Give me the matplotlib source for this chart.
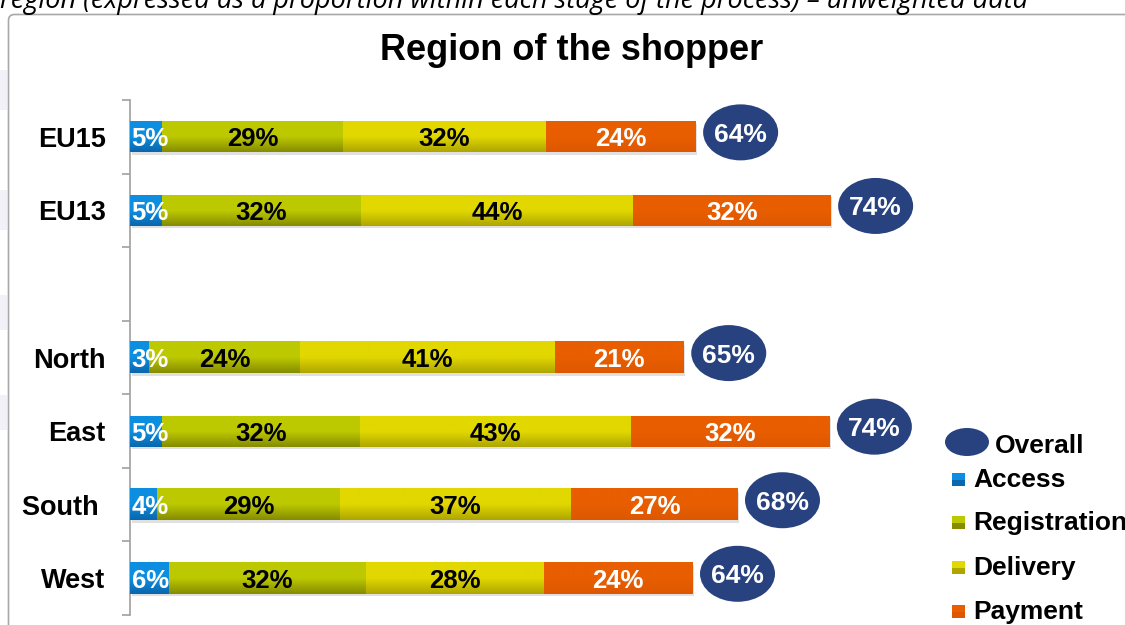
import numpy as np
import matplotlib
matplotlib.use("Agg")
import matplotlib.pyplot as plt
from matplotlib.patches import Ellipse, FancyBboxPatch, Rectangle
from matplotlib.colors import LinearSegmentedColormap

# ---------------- data ----------------
categories = ["EU15", "EU13", "", "North", "East", "South ", "West"]
access       = [5.1, 5.1, None, 3.0, 5.1, 4.3, 6.2]
registration = [29.0, 31.8, None, 24.2, 31.7, 29.3, 31.6]
delivery     = [32.4, 43.6, None, 40.8, 43.3, 37.0, 28.4]
payment      = [24.0, 31.6, None, 20.6, 31.8, 26.6, 23.8]
overall      = [64, 74, None, 65, 74, 68, 64]
series_names = ["Access", "Registration", "Delivery", "Payment"]
title = "Region of the shopper"
caption = "region (expressed as a proportion within each stage of the process) \u2013 unweighted data"

# ---------------- style ----------------
grad = {
    "Access": ("#0d8ee0", "#0a66ad"),
    "Registration": ("#bdc900", "#858c00"),
    "Delivery": ("#e2d800", "#aea600"),
    "Payment": ("#e85e00", "#de5700"),
}
label_color = {"Access": "white", "Registration": "black", "Delivery": "black", "Payment": "white"}
navy = "#28427f"
FONT = "Liberation Sans"

W, H = 1125, 625
fig = plt.figure(figsize=(W / 100, H / 100), dpi=100)
fig.patch.set_facecolor("white")

# overlay axes in pixel coordinates for frame/legend/caption
ov = fig.add_axes([0, 0, 1, 1], zorder=0)
ov.set_xlim(0, W)
ov.set_ylim(H, 0)
ov.axis("off")

# faint background shapes at left edge
for y0, h in [(70, 40), (190, 40), (295, 35), (395, 35)]:
    ov.add_patch(Rectangle((0, y0), 7, h, facecolor="#f1f1f7", edgecolor="none"))

# frame
ov.add_patch(FancyBboxPatch((8.5, 14.5), 1200, 700, boxstyle="round,pad=0,rounding_size=6",
                            facecolor="white", edgecolor="#a8a8a8", linewidth=1.2))

# caption (cut at top, as in the reference)
ov.text(0, 8, caption, fontsize=19.5, fontstyle="italic", family="Open Sans",
        ha="left", va="baseline", color="black")

# title
ov.text(572, 51, title, fontsize=26, fontweight="bold", family=FONT, ha="center", va="center")

# main axes: x from pixel 130 to 1125, y from 100 to 615
px_per_unit = 6.25
left_px, top_px, bot_px = 130, 100, 615
ax = fig.add_axes([left_px / W, 1 - bot_px / H, (W - left_px) / W, (bot_px - top_px) / H], zorder=2)
ax.patch.set_alpha(0)
ax.set_xlim(0, (W - left_px) / px_per_unit)
ax.set_ylim(6.5, -0.5)

slot_px = (bot_px - top_px) / 7
bar_h = 31 / slot_px

series = [access, registration, delivery, payment]
for i, cat in enumerate(categories):
    if access[i] is None:
        continue
    vals = [s[i] for s in series]
    total = sum(vals)
    # shadow
    ax.barh(i + 0.035, total, height=bar_h, left=0.25, color="#000000", alpha=0.12, zorder=1)
    left = 0.0
    for name, v in zip(series_names, vals):
        top_c, bot_c = grad[name]
        ax.barh(i, v, height=bar_h, left=left, color=top_c, zorder=2, linewidth=0)
        cmap = LinearSegmentedColormap.from_list(name, [top_c, top_c, bot_c])
        g = np.linspace(0, 1, 64).reshape(-1, 1)
        ax.imshow(g, cmap=cmap, aspect="auto", interpolation="bicubic",
                  extent=[left, left + v, i + bar_h / 2, i - bar_h / 2], zorder=3)
        if name == "Access":
            tx, ha = left + 0.25, "left"
        else:
            tx, ha = left + v / 2, "center"
        ax.text(tx, i, f"{round(v)}%", ha=ha, va="center_baseline",
                fontsize=18.5, fontweight="bold", family=FONT, color=label_color[name], zorder=5)
        left += v
    # overall ellipse
    ex = total + 45 / px_per_unit
    ey = i - 0.06
    ax.add_patch(Ellipse((ex, ey), 75 / px_per_unit, 56 / slot_px, facecolor=navy,
                         edgecolor="none", zorder=4))
    ax.text(ex, ey, f"{overall[i]}%", ha="center", va="center_baseline", fontsize=19,
            fontweight="bold", family=FONT, color="white", zorder=5)

ax.set_xlim(0, (W - left_px) / px_per_unit)
ax.set_ylim(6.5, -0.5)

# spines & ticks
for s in ["top", "right", "bottom"]:
    ax.spines[s].set_visible(False)
ax.spines["left"].set_color("#a0a0a0")
ax.spines["left"].set_linewidth(1.2)
ax.set_xticks([])
ax.set_yticks(range(7))
ax.set_yticklabels(categories, fontsize=19.5, fontweight="bold", family=FONT)
ax.tick_params(axis="y", which="major", length=0, pad=17.5)
ax.set_yticks(np.arange(-0.5, 7.0, 1.0), minor=True)
ax.tick_params(axis="y", which="minor", length=6, width=1.2, color="#a0a0a0", direction="out")

# legend (manual)
ov.add_patch(Ellipse((967, 442), 44, 28, facecolor=navy, edgecolor="none"))
ov.text(995, 446, "Overall", fontsize=19, fontweight="bold", family=FONT, va="center", ha="left")
leg_y = [480, 523, 568, 612]
for name, y in zip(series_names, leg_y):
    top_c, bot_c = grad[name]
    ov.add_patch(Rectangle((952, y - 7), 13, 13, facecolor=top_c, edgecolor="none"))
    ov.add_patch(Rectangle((952, y), 13, 6, facecolor=bot_c, edgecolor="none"))
    ov.text(973, y, name, fontsize=19, fontweight="bold", family=FONT, va="center", ha="left")

fig.savefig("out.png", dpi=100)
